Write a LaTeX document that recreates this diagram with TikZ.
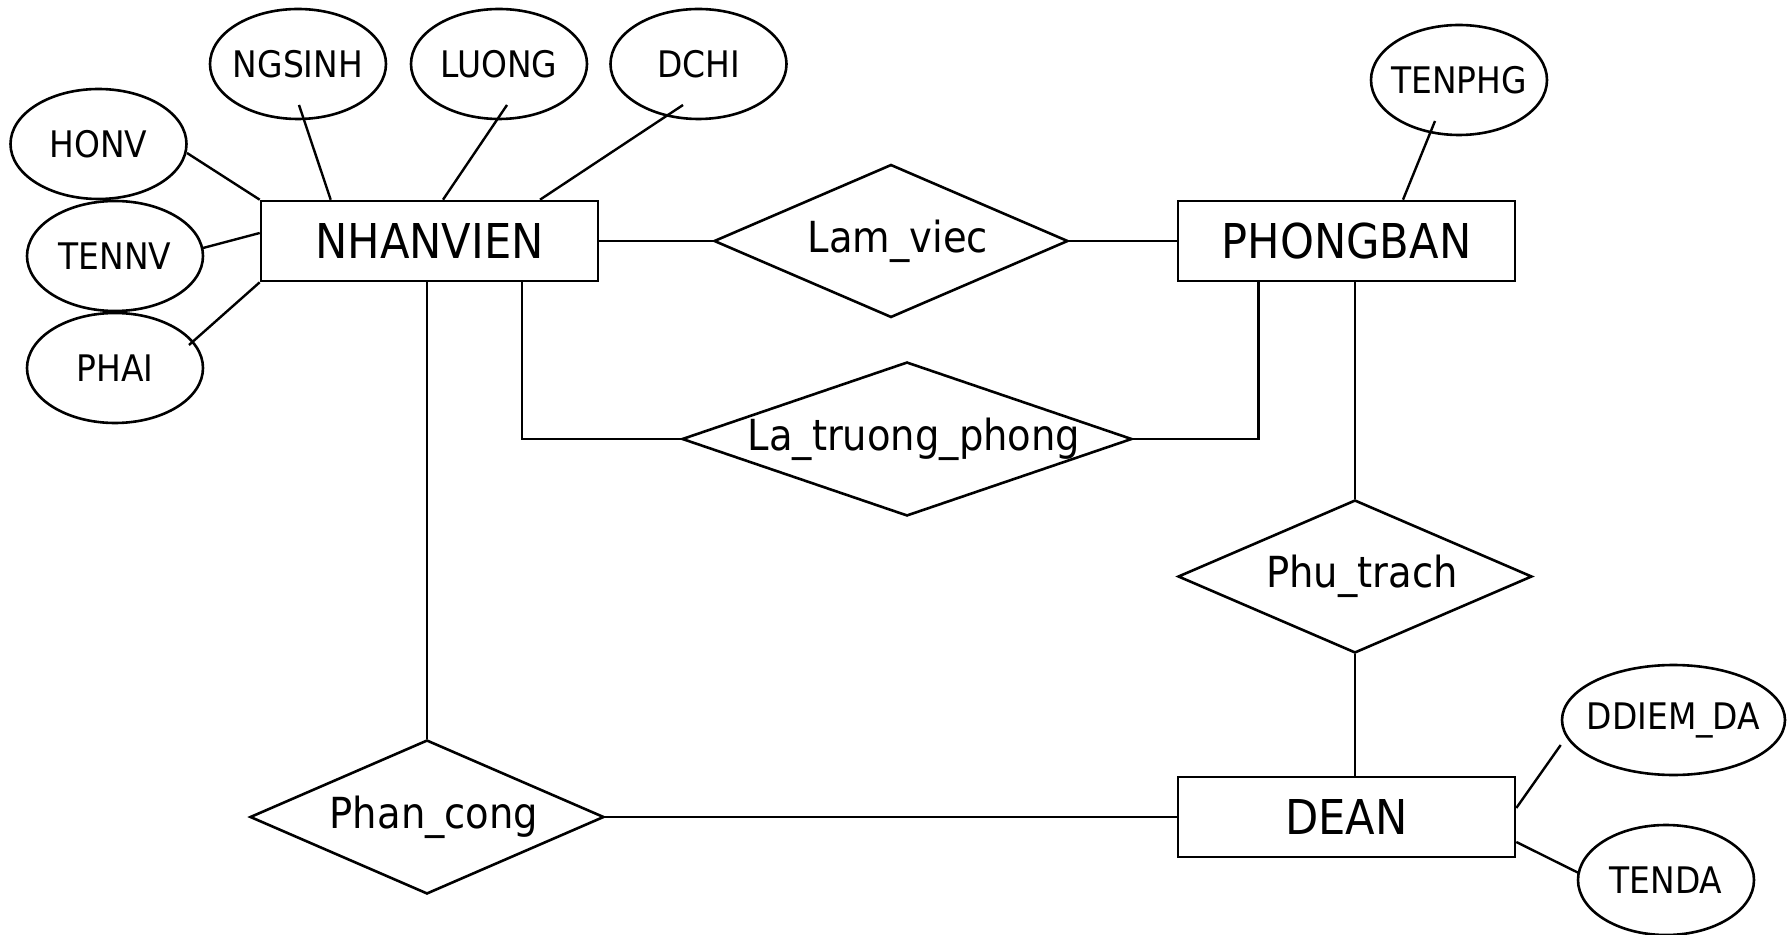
\documentclass[tikz,border=0pt]{standalone}
\usepackage{fontspec}
\setmainfont{DejaVu Sans}[FakeStretch=0.9]
\usetikzlibrary{shapes.geometric,calc}
\newcommand\zerow[1]{\makebox[0pt]{#1}}
\newcommand\relw[1]{\makebox[0pt]{\hspace*{7pt}#1}}
\begin{document}
\begin{tikzpicture}[x=0.5pt,y=-0.5pt,line width=1.3pt,
  entity/.style={draw,rectangle,minimum width=168.5pt,minimum height=40pt,inner sep=0pt,font=\fontsize{24}{28}\selectfont},
  rel/.style={draw,diamond,minimum width=177pt,minimum height=76.5pt,inner sep=0pt,font=\fontsize{21.4}{25}\selectfont},
  attr/.style={draw,ellipse,minimum width=88pt,minimum height=55pt,inner sep=0pt,font=\fontsize{18.3}{22}\selectfont},
  link/.style={line width=1.2pt}]
\useasboundingbox (0,0) rectangle (1788,935);
% entities
\node[entity] (nv) at (429.5,241) {\zerow{NHANVIEN}};
\node[entity] (pb) at (1346.5,241) {\zerow{PHONGBAN}};
\node[entity] (dean) at (1346.5,817) {\zerow{DEAN}};
% relationships
\node[rel] (lamviec) at (891,241) {\relw{Lam\_viec}};
\node[rel,minimum width=225pt,minimum height=77pt] (ltp) at (907,439) {\relw{La\_truong\_phong}};
\node[rel] (phutrach) at (1355,576.5) {\relw{Phu\_trach}};
\node[rel,minimum height=77pt] (phancong) at (427,817) {\relw{Phan\_cong}};
% attributes
\node[attr] (ngsinh) at (298,64) {\zerow{NGSINH}};
\node[attr] (luong) at (499,64) {\zerow{LUONG}};
\node[attr] (dchi) at (698.5,64) {\zerow{DCHI}};
\node[attr] (honv) at (98.5,144) {\zerow{HONV}};
\node[attr] (tennv) at (115,256) {\zerow{TENNV}};
\node[attr] (phai) at (115,368) {\zerow{PHAI}};
\node[attr] (tenphg) at (1459,80) {\zerow{TENPHG}};
\node[attr,minimum width=111.5pt] (ddiemda) at (1673.5,720) {\zerow{DDIEM\_DA}};
\node[attr] (tenda) at (1666,880) {\zerow{TENDA}};
% attribute links
\draw[link] ($(honv.center)+(88.5,9)$) -- (nv.north west);
\draw[link] ($(ngsinh.center)+(1,41)$) -- ($(nv.north west)+(71,0)$);
\draw[link] ($(luong.center)+(8,41)$) -- ($(nv.north)+(13.5,0)$);
\draw[link] ($(dchi.center)+(-15.5,41)$) -- ($(nv.north)+(110.5,0)$);
\draw[link] ($(tennv.center)+(88,-8)$) -- ($(nv.west)+(0,-8)$);
\draw[link] ($(phai.center)+(74,-23)$) -- (nv.south west);
\draw[link] ($(tenphg.center)+(-24,41)$) -- ($(pb.north)+(56.5,0)$);
\draw[link] ($(ddiemda.west)+(0,25)$) -- ($(dean.east)+(0,-9)$);
\draw[link] ($(tenda.west)+(2,-7)$) -- ($(dean.east)+(0,25)$);
% relationship links
\draw[link] (nv.east) -- (lamviec.west);
\draw[link] (lamviec.east) -- (pb.west);
\draw[link] ($(nv.south)+(92.5,0)$) |- (ltp.west);
\draw[link] ($(pb.south)+(-88,0)$) |- (ltp.east);
\draw[link] (phutrach.north |- pb.south) -- (phutrach.north);
\draw[link] (phutrach.south) -- (phutrach.south |- dean.north);
\draw[link] (phancong.north |- nv.south) -- (phancong.north);
\draw[link] (phancong.east) -- (dean.west);
\end{tikzpicture}
\end{document}
